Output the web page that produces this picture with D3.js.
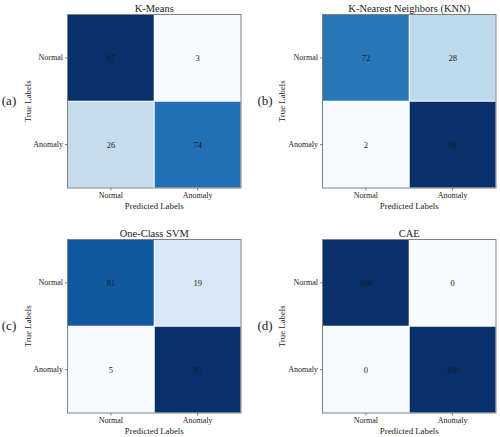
<!DOCTYPE html>
<html><head><meta charset="utf-8">
<script src="https://cdn.jsdelivr.net/npm/d3@7"></script>
<style>body{margin:0;background:#fff}svg{display:block}</style>
</head><body><svg id="c" width="500" height="437"></svg>
<script>
const classes = ["Normal", "Anomaly"];
const titles = ["K-Means", "K-Nearest Neighbors (KNN)", "One-Class SVM", "CAE"];
const panelTags = ["(a)", "(b)", "(c)", "(d)"];
const kmeans = [[97, 3], [26, 74]];
const knn = [[72, 28], [2, 98]];
const svm = [[81, 19], [5, 95]];
const cae = [[100, 0], [0, 100]];
const matrices = [kmeans, knn, svm, cae];

const FONT = "'Liberation Serif', 'Times New Roman', Times, serif";
const svg = d3.select("#c");
const boxes = [
  {x: 67.5, y: 14.5, tagX: 9, labX: 28},
  {x: 322.5, y: 14.5, tagX: 265, labX: 282},
  {x: 67.5, y: 239.5, tagX: 9, labX: 28},
  {x: 322.5, y: 239.5, tagX: 265, labX: 282}
];
const W = 173.5, H = 173.5;

function txt(sel, size) {
  return sel.style("font-family", FONT).style("font-size", size + "px").style("fill", "#1a1a1a");
}

matrices.forEach((m, i) => {
  const b = boxes[i];
  const g = svg.append("g").attr("transform", `translate(${b.x},${b.y})`);
  const xs = d3.scaleBand().domain(classes).range([0, W]);
  const ys = d3.scaleBand().domain(classes).range([0, H]);
  const flat = m.flat();
  const col = d3.scaleSequential(d3.interpolateBlues).domain([d3.min(flat), d3.max(flat)]);
  const cells = [];
  m.forEach((row, r) => row.forEach((v, c) => cells.push({r: classes[r], c: classes[c], v})));
  g.selectAll("rect.cell").data(cells).join("rect").attr("class", "cell")
    .attr("x", d => xs(d.c)).attr("y", d => ys(d.r))
    .attr("width", xs.bandwidth()).attr("height", ys.bandwidth())
    .attr("fill", d => col(d.v)).attr("stroke", "#fff").attr("stroke-width", 0.8);
  txt(g.selectAll("text.val").data(cells).join("text").attr("class", "val")
    .attr("x", d => xs(d.c) + xs.bandwidth() / 2).attr("y", d => ys(d.r) + ys.bandwidth() / 2 + 3)
    .attr("text-anchor", "middle").text(d => d.v), 8.5);
  g.append("rect").attr("width", W).attr("height", H).attr("fill", "none")
    .attr("stroke", "#808080").attr("stroke-width", 1);
  const xa = g.append("g").attr("transform", `translate(0,${H})`)
    .call(d3.axisBottom(xs).tickSize(2.5).tickPadding(2));
  const ya = g.append("g").call(d3.axisLeft(ys).tickSize(2.5).tickPadding(2));
  [xa, ya].forEach(a => {
    a.select(".domain").remove();
    a.selectAll("line").attr("stroke", "#333").attr("stroke-width", 0.6);
    txt(a.selectAll("text"), 8);
  });
  txt(g.append("text").attr("x", W / 2).attr("y", -3).attr("text-anchor", "middle")
    .text(titles[i]), 10.5);
  txt(g.append("text").attr("x", W / 2).attr("y", H + 21).attr("text-anchor", "middle")
    .text("Predicted Labels"), 8.8);
  txt(svg.append("text").attr("transform", `translate(${b.labX + 3},${b.y + H / 2}) rotate(-90)`)
    .attr("text-anchor", "middle").text("True Labels"), 8.8);
  txt(svg.append("text").attr("x", b.tagX).attr("y", b.y + H / 2 + 4)
    .attr("text-anchor", "middle").text(panelTags[i]), 13);
});
</script></body></html>
